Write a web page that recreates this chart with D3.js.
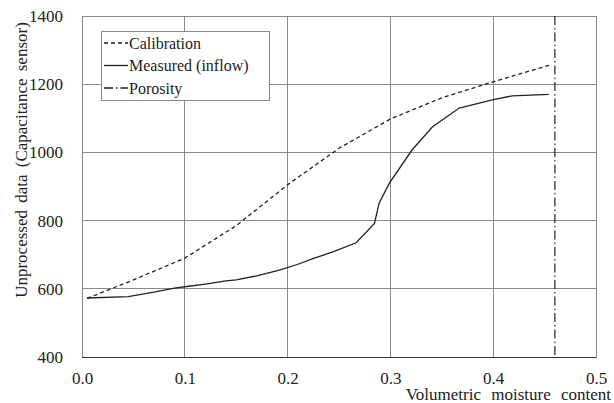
<!DOCTYPE html>
<html><head><meta charset="utf-8">
<script src="https://cdn.jsdelivr.net/npm/d3@7"></script>
<style>body{margin:0;background:#fff}svg{display:block}</style>
</head><body>
<script>
const calibration = [[0.005,572],[0.05,626],[0.1,690],[0.15,785],[0.2,905],[0.25,1012],[0.3,1098],[0.35,1160],[0.4,1207],[0.455,1256]];
const measured = [[0.005,573],[0.045,577],[0.07,590],[0.09,602],[0.1,606],[0.12,614],[0.14,623],[0.15,626],[0.17,638],[0.192,655],[0.21,672],[0.226,690],[0.244,708],[0.2667,735],[0.2845,792],[0.289,851],[0.299,910],[0.321,1007],[0.341,1075],[0.367,1130],[0.399,1154],[0.4186,1166],[0.454,1170]];
const porosity = 0.46;
const xTicks = [0,0.1,0.2,0.3,0.4,0.5];
const yTicks = [400,600,800,1000,1200,1400];
const legendLabels = ["Calibration","Measured (inflow)","Porosity"];

const FONT="'Liberation Serif', 'Times New Roman', serif";
const W=614,H=403;
const m={l:82,r:18,t:16,b:46};
const svg=d3.select("body").append("svg").attr("width",W).attr("height",H);
const x=d3.scaleLinear().domain([0,0.5]).range([m.l,W-m.r]);
const y=d3.scaleLinear().domain([400,1400]).range([H-m.b,m.t]);
const grid="#8a8a8a";

svg.append("g").selectAll("line").data(yTicks.slice(1,-1)).join("line")
  .attr("x1",x(0)).attr("x2",x(0.5)).attr("y1",d=>y(d)).attr("y2",d=>y(d))
  .attr("stroke",grid).attr("stroke-width",1).attr("shape-rendering","crispEdges");
svg.append("g").selectAll("line").data(xTicks.slice(1,-1)).join("line")
  .attr("y1",y(400)).attr("y2",y(1400)).attr("x1",d=>x(d)).attr("x2",d=>x(d))
  .attr("stroke",grid).attr("stroke-width",1).attr("shape-rendering","crispEdges");
svg.append("rect").attr("x",x(0)).attr("y",y(1400)).attr("width",x(0.5)-x(0)).attr("height",y(400)-y(1400))
  .attr("fill","none").attr("stroke",grid).attr("shape-rendering","crispEdges");
svg.append("line").attr("x1",x(0)).attr("x2",x(0.5)).attr("y1",y(400)).attr("y2",y(400))
  .attr("stroke","#333").attr("shape-rendering","crispEdges");

const xa=svg.append("g").attr("transform",`translate(0,${y(400)})`)
  .call(d3.axisBottom(x).tickValues(xTicks).tickFormat(d3.format(".1f")).tickSize(0).tickPadding(15));
const ya=svg.append("g").attr("transform",`translate(${x(0)},0)`)
  .call(d3.axisLeft(y).tickValues(yTicks).tickFormat(d3.format("d")).tickSize(0).tickPadding(19));
[xa,ya].forEach(a=>{a.select(".domain").remove();a.selectAll("text").attr("font-size",17).style("font-family",FONT).attr("fill","#222");});

const line=d3.line().x(d=>x(d[0])).y(d=>y(d[1]));
svg.append("path").datum(calibration).attr("d",line).attr("fill","none").attr("stroke","#222").attr("stroke-width",1.3).attr("stroke-dasharray","4,3");
svg.append("path").datum(measured).attr("d",line).attr("fill","none").attr("stroke","#222").attr("stroke-width",1.3);
svg.append("line").attr("x1",x(porosity)).attr("x2",x(porosity)).attr("y1",y(1400)).attr("y2",y(400))
  .attr("stroke","#222").attr("stroke-width",1.2).attr("stroke-dasharray","9,3,1.5,3");

svg.append("text").attr("x",611).attr("y",400).attr("text-anchor","end").attr("font-size",17).style("font-family",FONT).style("word-spacing","6px").attr("fill","#222").text("Volumetric moisture content");
svg.append("text").attr("transform",`translate(27,160) rotate(-90)`).attr("text-anchor","middle").attr("font-size",17).style("font-family",FONT).style("word-spacing","3px").attr("fill","#222").text("Unprocessed data (Capacitance sensor)");

const lg=svg.append("g");
lg.append("rect").attr("x",101).attr("y",31).attr("width",168).attr("height",69).attr("fill","#fff").attr("stroke",grid).attr("shape-rendering","crispEdges");
const dashes=["4,3",null,"9,3,1.5,3"];
legendLabels.forEach((t,i)=>{
  const cy=43+i*22.5;
  lg.append("line").attr("x1",104).attr("x2",128).attr("y1",cy).attr("y2",cy).attr("stroke","#222").attr("stroke-width",1.3).attr("stroke-dasharray",dashes[i]);
  lg.append("text").attr("x",129).attr("y",cy).attr("dy","0.35em").attr("font-size",16).style("font-family",FONT).attr("fill","#222").text(t);
});
</script>
</body></html>
